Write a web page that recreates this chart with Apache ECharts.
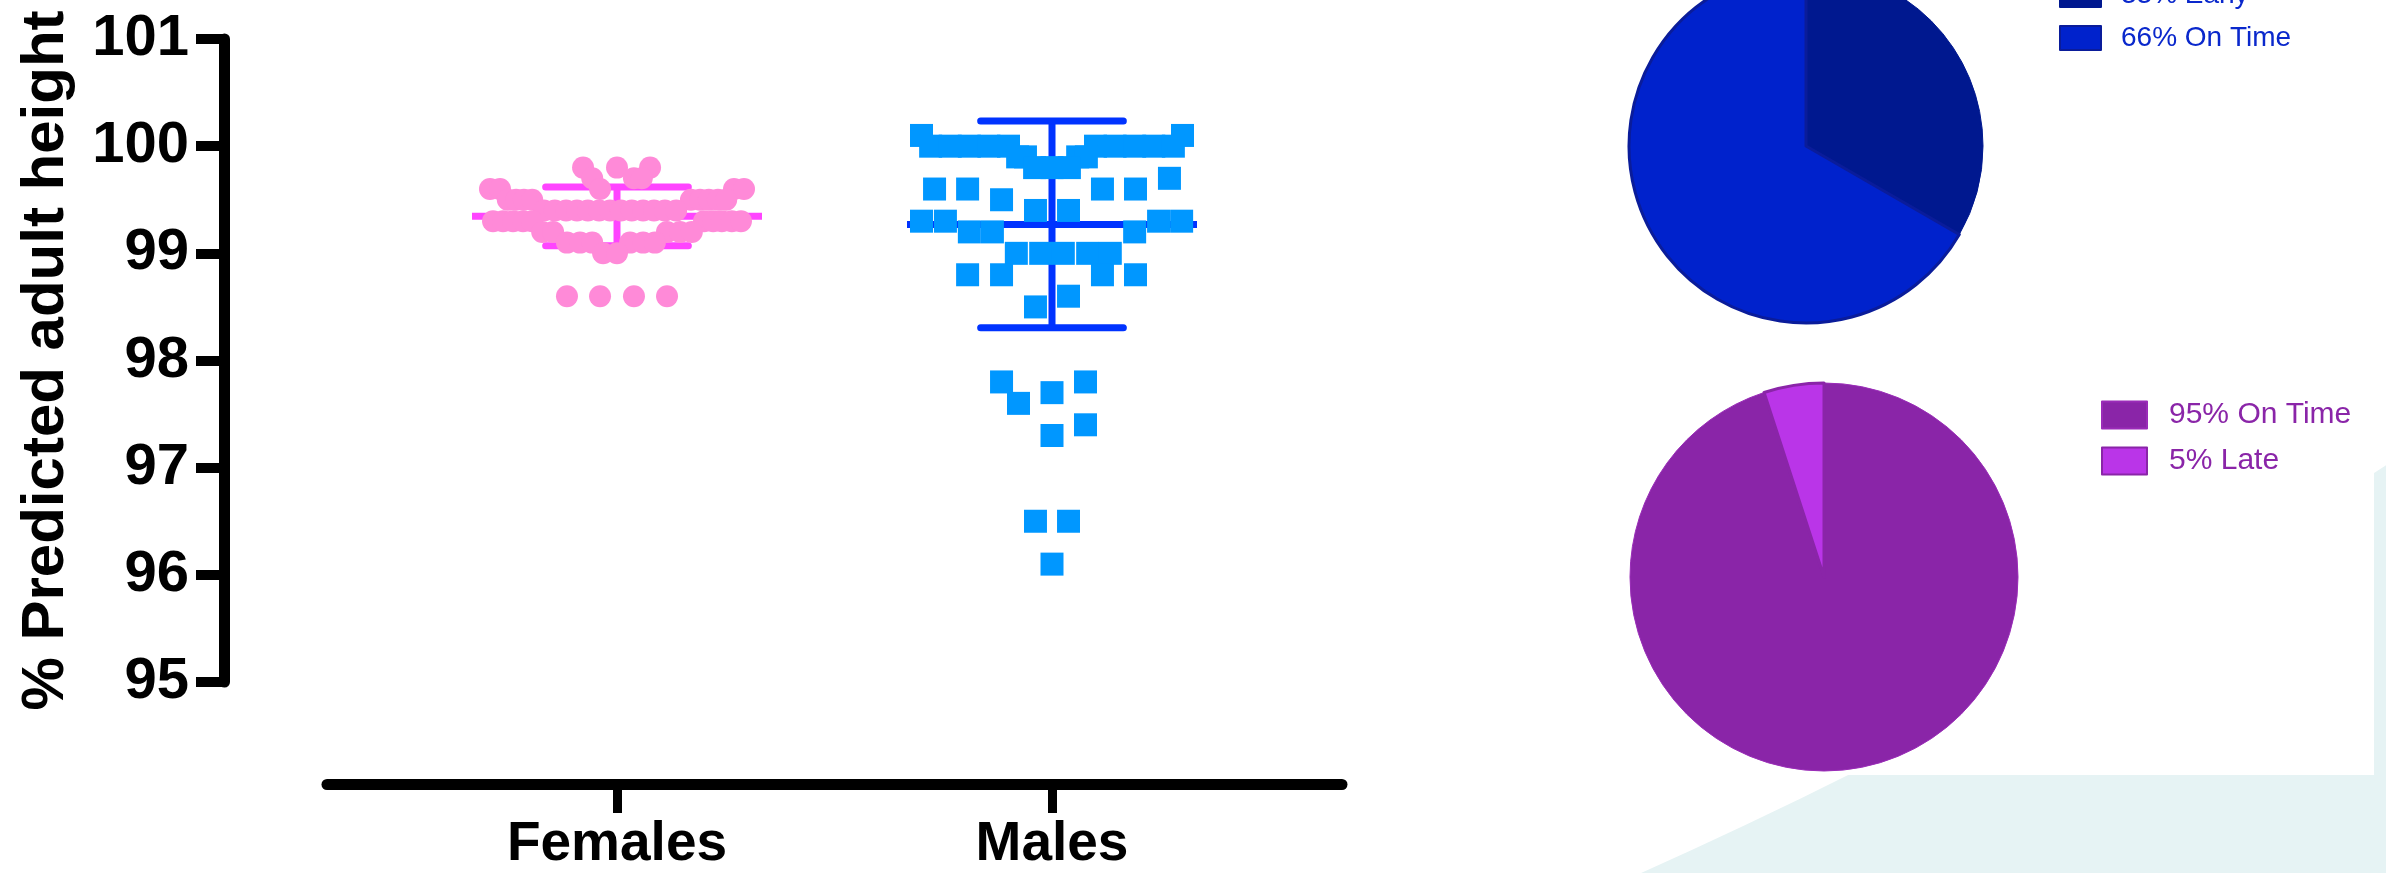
<!DOCTYPE html>
<html>
<head>
<meta charset="utf-8">
<script src="https://cdn.jsdelivr.net/npm/echarts@6/dist/echarts.min.js"></script>
<style>
  html, body { margin: 0; padding: 0; background: #E6F3F4; }
  #chart { width: 2386px; height: 873px; }
</style>
</head>
<body>
<div id="chart"></div>
<script>
// ---------- data ----------
const categories = ['Females', 'Males'];
const yTickValues = [95, 96, 97, 98, 99, 100, 101];

const femaleValues = [
  99.8, 99.8, 99.8,
  99.7, 99.7, 99.7,
  99.6, 99.6, 99.6, 99.6, 99.6,
  99.5, 99.5, 99.5, 99.5, 99.5, 99.5, 99.5, 99.5, 99.5,
  99.4, 99.4, 99.4, 99.4, 99.4, 99.4, 99.4, 99.4, 99.4, 99.4, 99.4, 99.4, 99.4,
  99.3, 99.3, 99.3, 99.3, 99.3, 99.3, 99.3, 99.3, 99.3, 99.3,
  99.2, 99.2, 99.2, 99.2, 99.2,
  99.1, 99.1, 99.1, 99.1, 99.1, 99.1,
  99.0, 99.0,
  98.6, 98.6, 98.6, 98.6
];
const femaleOffsets = [
  -0.078, 0, 0.076,
  -0.057, 0.039, 0.057,
  -0.292, -0.269, -0.039, 0.269, 0.292,
  -0.251, -0.232, -0.214, -0.195, 0.170, 0.191, 0.211, 0.232, 0.251,
  -0.168, -0.143, -0.117, -0.092, -0.067, -0.041, -0.016, 0.009, 0.034, 0.060, 0.085, 0.110, 0.136,
  -0.285, -0.262, -0.239, -0.216, -0.195, 0.200, 0.221, 0.241, 0.264, 0.285,
  -0.172, -0.147, 0.115, 0.145, 0.172,
  -0.115, -0.085, -0.057, 0.030, 0.060, 0.087,
  -0.032, 0,
  -0.115, -0.039, 0.039, 0.115
];

const maleValues = [
  100.1, 100.1,
  100.0, 100.0, 100.0, 100.0, 100.0, 100.0, 100.0, 100.0, 100.0, 100.0,
  99.9, 99.9, 99.9, 99.9,
  99.8, 99.8, 99.8,
  99.7,
  99.6, 99.6, 99.6, 99.6,
  99.5,
  99.4, 99.4,
  99.3, 99.3, 99.3, 99.3,
  99.2, 99.2, 99.2,
  99.0, 99.0, 99.0, 99.0, 99.0,
  98.8, 98.8, 98.8, 98.8,
  98.6,
  98.5,
  97.8, 97.8,
  97.7,
  97.6,
  97.4,
  97.3,
  96.5, 96.5,
  96.1
];
const maleOffsets = [
  -0.300, 0.300,
  -0.279, -0.234, -0.190, -0.145, -0.100, 0.100, 0.145, 0.190, 0.234, 0.279,
  -0.079, -0.061, 0.059, 0.079,
  -0.040, 0, 0.040,
  0.270,
  -0.270, -0.194, 0.116, 0.192,
  -0.116,
  -0.038, 0.038,
  -0.300, -0.245, 0.245, 0.298,
  -0.190, -0.137, 0.190,
  -0.082, -0.026, 0.026, 0.082, 0.134,
  -0.194, -0.116, 0.116, 0.192,
  0.038,
  -0.038,
  -0.116, 0.077,
  0,
  -0.077,
  0.077,
  0,
  -0.038, 0.038,
  0
];

const groupMeans = [99.345, 99.27];
const groupSDs = [0.275, 0.965];

const pie1Labels = ['33% Early', '66% On Time'];
const pie1Values = [33, 66];
const pie2Labels = ['95% On Time', '5% Late'];
const pie2Values = [95, 5];

// ---------- build chart ----------
const FONT = "'Liberation Sans', Arial, Helvetica, sans-serif";
const barColors = ['#FF44FF', '#0033FF'];

const femaleData = femaleValues.map((v, i) => [0 + femaleOffsets[i], v]);
const maleData = maleValues.map((v, i) => [1 + maleOffsets[i], v]);
const statData = groupMeans.map((m, i) => [i, m, groupSDs[i]]);

const chart = echarts.init(document.getElementById('chart'), null, { renderer: 'canvas' });

const option = {
  animation: false,
  backgroundColor: '#E6F3F4',
  graphic: [
    { type: 'circle', z: -20, silent: true, shape: { cx: -515, cy: -3950, r: 5283 }, style: { fill: '#FFFFFF' } },
    { type: 'rect', z: -19, silent: true, shape: { x: 0, y: 0, width: 2374, height: 775 }, style: { fill: '#FFFFFF' } }
  ],
  grid: { left: 327, right: 1044, top: 39, bottom: 190, containLabel: false },
  xAxis: {
    type: 'value',
    min: -2 / 3,
    max: 5 / 3,
    offset: 102,
    splitLine: { show: false },
    axisLine: { show: true, onZero: false, lineStyle: { color: '#000', width: 11 } },
    axisTick: { show: true, customValues: [0, 1], length: 29, lineStyle: { color: '#000', width: 9 } },
    axisLabel: {
      show: true,
      customValues: [0, 1],
      formatter: v => categories[Math.round(v)] || '',
      margin: 33,
      color: '#000',
      fontFamily: FONT,
      fontWeight: 'bold',
      fontSize: 55,
      lineHeight: 56
    }
  },
  yAxis: {
    type: 'value',
    min: yTickValues[0],
    max: yTickValues[yTickValues.length - 1],
    interval: 1,
    offset: 103,
    splitLine: { show: false },
    axisLine: { show: true, onZero: false, lineStyle: { color: '#000', width: 11 } },
    axisTick: { show: true, length: 28, lineStyle: { color: '#000', width: 10 } },
    axisLabel: {
      margin: 35,
      color: '#000',
      fontFamily: FONT,
      fontWeight: 'bold',
      fontSize: 58
    },
    name: '% Predicted adult height',
    nameLocation: 'middle',
    nameGap: 148,
    nameTextStyle: {
      color: '#000',
      fontFamily: FONT,
      fontWeight: 'bold',
      fontSize: 60,
      lineHeight: 60
    }
  },
  legend: [
    {
      orient: 'vertical',
      left: 2059,
      top: -19,
      padding: 0,
      itemWidth: 41,
      itemHeight: 24,
      itemGap: 15,
      icon: 'rect',
      selectedMode: false,
      data: pie1Labels,
      textStyle: { color: '#0A28CC', fontFamily: FONT, fontSize: 28, lineHeight: 24, padding: [0, 0, 0, 15] }
    },
    {
      orient: 'vertical',
      left: 2101,
      top: 400,
      padding: 0,
      itemWidth: 45,
      itemHeight: 27,
      itemGap: 16,
      icon: 'rect',
      selectedMode: false,
      data: pie2Labels,
      textStyle: { color: '#8A25A8', fontFamily: FONT, fontSize: 30, lineHeight: 27, padding: [0, 0, 0, 17] }
    }
  ],
  series: [
    {
      type: 'custom',
      z: 1,
      silent: true,
      data: statData,
      renderItem: function (params, api) {
        const x = api.value(0), m = api.value(1), s = api.value(2);
        const c = barColors[params.dataIndex];
        const p = (a, b) => api.coord([a, b]);
        const half = 1 / 3, cap = 0.164;
        const ml = p(x - half, m), mr = p(x + half, m);
        const t = p(x, m + s), b = p(x, m - s);
        const tl = p(x - cap, m + s), tr = p(x + cap, m + s);
        const bl = p(x - cap, m - s), br = p(x + cap, m - s);
        return {
          type: 'group',
          children: [
            { type: 'line', shape: { x1: t[0], y1: t[1], x2: b[0], y2: b[1] }, style: { stroke: c, lineWidth: 7 } },
            { type: 'line', shape: { x1: tl[0], y1: tl[1], x2: tr[0], y2: tr[1] }, style: { stroke: c, lineWidth: 7, lineCap: 'round' } },
            { type: 'line', shape: { x1: bl[0], y1: bl[1], x2: br[0], y2: br[1] }, style: { stroke: c, lineWidth: 7, lineCap: 'round' } },
            { type: 'line', shape: { x1: ml[0], y1: ml[1], x2: mr[0], y2: mr[1] }, style: { stroke: c, lineWidth: 7 } }
          ]
        };
      }
    },
    {
      name: categories[0],
      type: 'scatter',
      z: 3,
      symbol: 'circle',
      symbolSize: 22,
      itemStyle: { color: '#FF8AD8', opacity: 1 },
      data: femaleData
    },
    {
      name: categories[1],
      type: 'scatter',
      z: 3,
      symbol: 'rect',
      symbolSize: 23,
      itemStyle: { color: '#0097FF', opacity: 1 },
      data: maleData
    },
    {
      type: 'pie',
      center: [1806, 146],
      radius: 177,
      startAngle: 90,
      clockwise: true,
      label: { show: false },
      labelLine: { show: false },
      emphasis: { disabled: true },
      data: [
        { name: pie1Labels[0], value: pie1Values[0], itemStyle: { color: '#00188F', borderColor: '#00188F', borderWidth: 1 } },
        { name: pie1Labels[1], value: pie1Values[1], itemStyle: { color: '#0022CC', borderColor: '#0A1C9A', borderWidth: 3 } }
      ]
    },
    {
      type: 'pie',
      center: [1824, 577],
      radius: 194,
      startAngle: 90,
      clockwise: true,
      label: { show: false },
      labelLine: { show: false },
      emphasis: { disabled: true },
      data: [
        { name: pie2Labels[0], value: pie2Values[0], itemStyle: { color: '#8A25A8', borderColor: '#9A2CB8', borderWidth: 1 } },
        { name: pie2Labels[1], value: pie2Values[1], itemStyle: { color: '#BA35E8', borderColor: '#8A25A8', borderWidth: 3 } }
      ]
    }
  ]
};

chart.setOption(option);
</script>
</body>
</html>
